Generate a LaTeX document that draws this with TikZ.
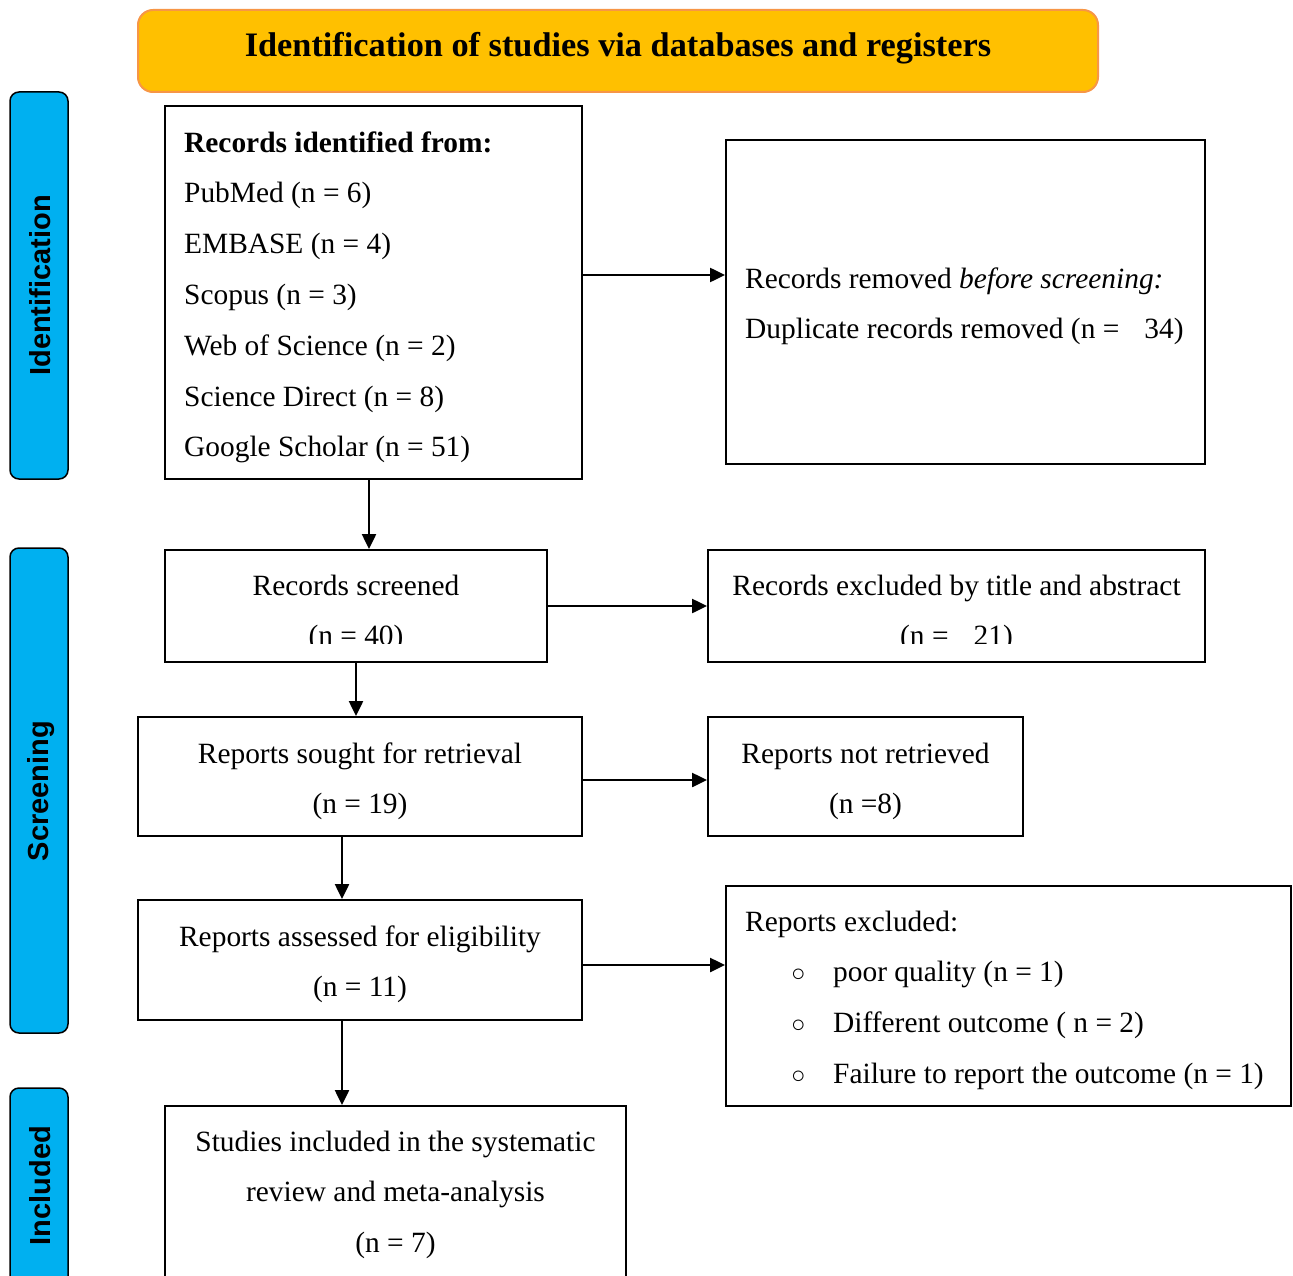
\documentclass[tikz,border=0pt]{standalone}
\usepackage{fontspec}
\setmainfont{Liberation Serif}
\setsansfont{Liberation Sans}
\usetikzlibrary{arrows.meta}
\definecolor{titlefill}{RGB}{255,192,0}
\definecolor{titleline}{RGB}{247,150,70}
\definecolor{barblue}{RGB}{0,176,240}
\begin{document}
\begin{tikzpicture}[x=1pt,y=-1pt,
  box/.style={draw=black, line width=2pt, fill=white, inner sep=0pt},
  bar/.style={draw=black, line width=1.5pt, fill=barblue, rounded corners=9pt, inner sep=0pt, minimum width=58pt},
  barlabel/.style={rotate=90, font=\sffamily\bfseries\fontsize{29}{34}\selectfont, inner sep=0pt},
  txt/.style={font=\fontsize{29.4}{50.8}\selectfont, inner sep=0pt},
  arr/.style={line width=2.5pt, -{Triangle[length=15pt,width=14pt]}}
]
\path[use as bounding box] (0,0) rectangle (1293,1276);
% title
\node[draw=titleline, fill=titlefill, line width=2pt, rounded corners=15pt,
      minimum width=960pt, minimum height=82pt, inner sep=0pt] (title) at (618,51) {};
\node[font=\bfseries\fontsize{34.3}{40}\selectfont, inner sep=0pt, anchor=base] (titlet) at (618,57)
  {Identification of studies via databases and registers};
% side bars
\node[bar, minimum height=387pt] (idbar) at (39,285.5) {};
\node[bar, minimum height=485pt] (scbar) at (39,790.5) {};
\node[bar, minimum height=220pt, overlay] (inbar) at (39,1198) {};
\node[barlabel] (idlab) at (40,285.5) {Identification};
\node[barlabel] (sclab) at (41,791) {Screening};
\node[barlabel] (inlab) at (40,1185.5) {Included};
% boxes
\node[box, minimum width=417pt, minimum height=373pt] (id)  at (373.5,292.5) {};
\node[box, minimum width=479pt, minimum height=324pt] (rem) at (965.5,302) {};
\node[box, minimum width=382pt, minimum height=112pt] (scr) at (356,606) {};
\node[box, minimum width=497pt, minimum height=112pt] (exc) at (956.5,606) {};
\node[box, minimum width=444pt, minimum height=119pt] (sou) at (360,776.5) {};
\node[box, minimum width=315pt, minimum height=119pt] (nrt) at (865.5,776.5) {};
\node[box, minimum width=444pt, minimum height=120pt] (ass) at (360,960) {};
\node[box, minimum width=565pt, minimum height=220pt] (rex) at (1008.5,996) {};
\node[box, minimum width=461pt, minimum height=200pt, overlay] (inc) at (395.5,1206) {};
% texts (anchor=base is the baseline of the last line)
\node[txt, anchor=base west, align=left] (idt) at (184,456.8)
  {\textbf{Records identified from:}\\
   PubMed (n = 6)\\
   EMBASE (n = 4)\\
   Scopus (n = 3)\\
   Web of Science (n = 2)\\
   Science Direct (n = 8)\\
   Google Scholar (n = 51)};
\node[txt, anchor=base west, align=left] (remt) at (745,338.8)
  {Records removed \textit{before screening:}\\
   Duplicate records removed (n =\hspace{0.6em} 34)};
\begin{scope}
  \clip (150,560) rectangle (1220,643);
  \node[txt, anchor=base, align=center] (scrt) at (356,645.8) {Records screened\\(n = 40)};
  \node[txt, anchor=base, align=center] (exct) at (956.5,645.8) {Records excluded by title and abstract\\(n =\hspace{0.6em} 21)};
\end{scope}
\node[txt, anchor=base, align=center] (sout) at (360,813.8) {Reports sought for retrieval\\(n = 19)};
\node[txt, anchor=base, align=center] (nrtt) at (865.5,813.8) {Reports not retrieved\\(n =8)};
\node[txt, anchor=base, align=center] (asst) at (360,996.8) {Reports assessed for eligibility\\(n = 11)};
\node[txt, anchor=base west, align=left] (rext) at (745,1083.4)
  {Reports excluded:\\
   \hspace*{46pt}\makebox[42pt][l]{\fontsize{24}{24}\selectfont ○}poor quality (n = 1)\\
   \hspace*{46pt}\makebox[42pt][l]{\fontsize{24}{24}\selectfont ○}Different outcome ( n = 2)\\
   \hspace*{46pt}\makebox[42pt][l]{\fontsize{24}{24}\selectfont ○}Failure to report the outcome (n = 1)};
\node[txt, anchor=base, align=center] (inct) at (395.5,1252.6)
  {Studies included in the systematic\\review and meta-analysis\\(n = 7)};
% connectors
\draw[arr] (id.east |- 0,275) -- (rem.west |- 0,275);
\draw[arr] (id.south -| 369,0) -- (scr.north -| 369,0);
\draw[arr] (scr.east) -- (exc.west);
\draw[arr] (scr.south) -- (scr.south |- sou.north);
\draw[arr] (sou.east |- 0,780) -- (nrt.west |- 0,780);
\draw[arr] (sou.south -| 342,0) -- (ass.north -| 342,0);
\draw[arr] (ass.east |- 0,965) -- (rex.west |- 0,965);
\draw[arr] (ass.south -| 342,0) -- (inc.north -| 342,0);
\end{tikzpicture}
\end{document}
